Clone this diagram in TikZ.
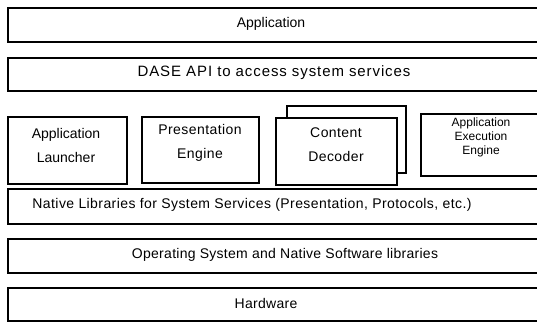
\documentclass[tikz,border=0pt]{standalone}
\usepackage{fontspec}
\setmainfont{Liberation Sans}
\begin{document}
\begin{tikzpicture}[x=1pt,y=-1pt,
  box/.style={draw, line width=1.9pt, inner sep=0pt, anchor=north west},
  txt/.style={font=\fontsize{14}{24}\selectfont, align=center, inner sep=0pt},
  small/.style={font=\fontsize{12}{14}\selectfont, align=center, inner sep=0pt}]
\useasboundingbox (0,0) rectangle (537,322);
\clip (0,0) rectangle (537,322);
% system layers, running off the right edge
\node[box, minimum width=540pt, minimum height=34pt] (app) at (7,7) {};
\node[txt] (appT) at (271,24) {Application};
\node[box, minimum width=540pt, minimum height=33pt] (dase) at (7,57) {};
\node[txt] (daseT) at (274,73) {\fontsize{15}{18}\selectfont\addfontfeature{LetterSpace=6}DASE API to access system services};
% middle row of engines
\node[box, minimum width=119pt, minimum height=67pt] (launch) at (7,116) {};
\node[txt] (launchT) at (66,145) {Application\\Launcher};
\node[box, minimum width=117pt, minimum height=66pt] (pres) at (141,116) {};
\node[txt] (presT) at (200,143) {\addfontfeature{LetterSpace=3}Presentation\\\addfontfeature{LetterSpace=3}Engine};
\node[box, fill=white, minimum width=119pt, minimum height=67pt] (decB) at (286,105) {};
\node[box, fill=white, minimum width=121pt, minimum height=67pt] (dec) at (275,117) {};
\node[txt] (decT) at (336,145) {\addfontfeature{LetterSpace=3}Content\\\addfontfeature{LetterSpace=3}Decoder};
\node[box, minimum width=130pt, minimum height=62pt] (aee) at (420,113) {};
\node[small] (aeeT) at (481,137) {Application\\Execution\\Engine};
% lower layers
\node[box, minimum width=540pt, minimum height=35pt] (native) at (7,188) {};
\node[txt] (nativeT) at (252,205) {\addfontfeature{LetterSpace=3}Native Libraries for System Services (Presentation, Protocols, etc.)};
\node[box, minimum width=540pt, minimum height=34pt] (os) at (7,238) {};
\node[txt] (osT) at (285,255) {\addfontfeature{LetterSpace=2}Operating System and Native Software libraries};
\node[box, minimum width=540pt, minimum height=33pt] (hw) at (7,287) {};
\node[txt] (hwT) at (266,303) {\addfontfeature{LetterSpace=2}Hardware};
\end{tikzpicture}
\end{document}
